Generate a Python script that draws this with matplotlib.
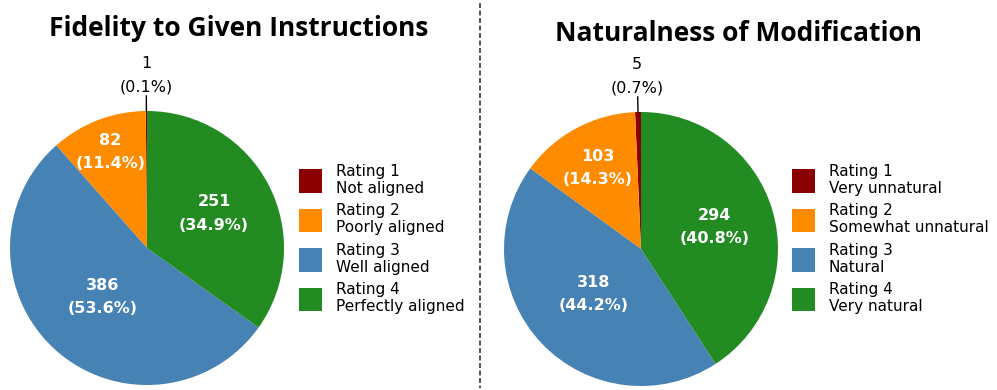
import numpy as np
import matplotlib.pyplot as plt
from matplotlib.lines import Line2D

# data
ratings = ['Rating 1', 'Rating 2', 'Rating 3', 'Rating 4']
fidelity_desc = ['Not aligned', 'Poorly aligned', 'Well aligned', 'Perfectly aligned']
natural_desc = ['Very unnatural', 'Somewhat unnatural', 'Natural', 'Very natural']
fidelity_counts = [1, 82, 386, 251]
natural_counts = [5, 103, 318, 294]
colors = ['darkred', 'darkorange', 'steelblue', 'forestgreen']

# label distance from centre (None -> outside with a leader line)
fidelity_dist = [None, 0.75, 0.48, 0.55]
natural_dist = [None, 0.67, 0.48, 0.56]

W, H = 997, 390
fig = plt.figure(figsize=(W / 100, H / 100), dpi=100)


def draw_pie(cx, cy, r, counts, dists, descs, leg_xy):
    ax = fig.add_axes([(cx - r) / W, (H - cy - r) / H, 2 * r / W, 2 * r / H])
    wedges, _ = ax.pie(counts, colors=colors, startangle=90, counterclock=True, radius=1)
    ax.set_xlim(-1, 1)
    ax.set_ylim(-1, 1)
    total = sum(counts)
    for w, c, d in zip(wedges, counts, dists):
        a = np.deg2rad((w.theta1 + w.theta2) / 2)
        txt = f'{c}\n({c / total * 100:.1f}%)'
        if d is None:
            ax.plot([np.cos(a), 1.11 * np.cos(a)], [np.sin(a), 1.11 * np.sin(a)],
                    color='black', lw=1, clip_on=False)
            ax.text(1.26 * np.cos(a), 1.26 * np.sin(a), txt, ha='center', va='center',
                    fontsize=11.5, linespacing=1.75)
        else:
            ax.text(d * np.cos(a), d * np.sin(a), txt, ha='center', va='center',
                    fontsize=11.5, fontweight='bold', color='white', linespacing=1.7)
    leg = fig.legend(wedges, [f'{r_}\n{d_}' for r_, d_ in zip(ratings, descs)],
                     loc='upper left', bbox_to_anchor=(leg_xy[0] / W, 1 - leg_xy[1] / H),
                     bbox_transform=fig.transFigure, frameon=False, fontsize=11,
                     borderpad=0, borderaxespad=0, handlelength=1.5, handleheight=2.0,
                     handletextpad=0.9, labelspacing=0.5)
    for t in leg.get_texts():
        t.set_linespacing(1.15)
    return ax


draw_pie(147, 248, 137, fidelity_counts, fidelity_dist, fidelity_desc, (299, 164))
draw_pie(641, 249, 137, natural_counts, natural_dist, natural_desc, (792, 164))

fig.text(238.5 / W, 1 - 36 / H, 'Fidelity to Given Instructions', ha='center', va='baseline',
         fontsize=19, fontweight='bold', family='Open Sans')
fig.text(738 / W, 1 - 40.7 / H, 'Naturalness of Modification', ha='center', va='baseline',
         fontsize=19, fontweight='bold', family='Open Sans')

fig.add_artist(Line2D([480 / W, 480 / W], [1 - 3 / H, 1 - 388 / H], transform=fig.transFigure,
                      color='#333333', lw=1.2, linestyle=(0, (3, 1.5))))

fig.savefig('out.png', dpi=100)
